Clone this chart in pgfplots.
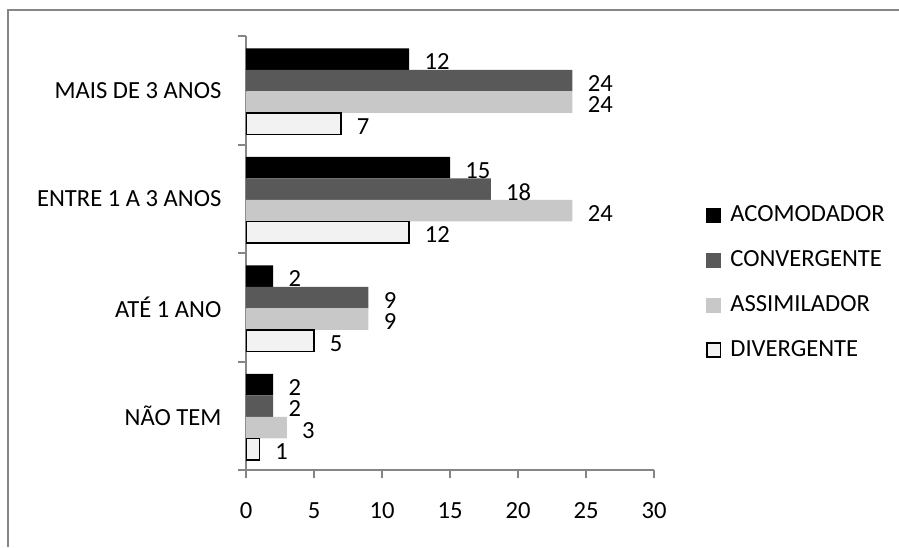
\documentclass[border=0pt]{standalone}
\usepackage{fontspec}
\setmainfont{Carlito}
\usepackage{pgfplots}
\pgfplotsset{compat=1.18}
\definecolor{axgray}{RGB}{134,134,134}
\definecolor{cdark}{RGB}{89,89,89}
\definecolor{clight}{RGB}{200,200,200}
\definecolor{cwhite}{RGB}{242,242,242}
\pgfplotsset{
 sqfill/.style={legend image code/.code={\fill[##1] (0pt,-3.75pt) rectangle (7.5pt,3.75pt);}},
 sqdraw/.style={legend image code/.code={\draw[##1, line width=0.75pt] (0.4pt,-3.4pt) rectangle (7.1pt,3.4pt);}},
}
\begin{document}
\fontsize{12.3}{14}\selectfont
\begin{tikzpicture}
\path[use as bounding box] (0,0) rectangle (449.5pt,273.5pt);
\draw[axgray, line width=1pt] (4pt,0) -- (4pt,268.5pt) -- (449.5pt,268.5pt);
\begin{axis}[
 at={(123pt,38.5pt)}, anchor=south west,
 scale only axis, width=204pt, height=217pt,
 xmin=0, xmax=30, ymin=-0.5, ymax=3.5,
 xtick={0,5,...,30},
 ytick={-0.5,0.5,1.5,2.5,3.5}, yticklabels={},
 extra y ticks={0,1,2,3},
 extra y tick labels={NÃO TEM, ATÉ 1 ANO, ENTRE 1 A 3 ANOS, MAIS DE 3 ANOS},
 extra y tick style={major tick length=0pt, yticklabel style={xshift=-8pt}},
 axis x line*=bottom, axis y line*=left,
 axis line style={axgray, line width=1pt, -},
 tick style={axgray, line width=1pt},
 tick align=outside, major tick length=4pt,
 xticklabel style={yshift=-8pt},
 /pgf/number format/assume math mode=true,
 xbar, bar width=10.75pt,
 nodes near coords, nodes near coords align=horizontal,
 every node near coord/.append style={black, inner sep=0pt, xshift=7.5pt, yshift=-1.5pt},
 legend cell align=left,
 legend style={at={(1,0.432)}, anchor=west, xshift=26pt, draw=none, fill=none, inner sep=0pt, row sep=6.5pt, column sep=2.5pt, nodes={inner sep=2pt, text height=9pt, text depth=3pt}},
]
\addplot[fill=black, draw=none, bar shift=15.625pt, sqfill] coordinates {(2,0) (2,1) (15,2) (12,3)};
\addlegendentry{ACOMODADOR}
\addplot[fill=cdark, draw=none, bar shift=4.875pt, sqfill] coordinates {(2,0) (9,1) (18,2) (24,3)};
\addlegendentry{CONVERGENTE}
\addplot[fill=clight, draw=none, bar shift=-5.875pt, sqfill] coordinates {(3,0) (9,1) (24,2) (24,3)};
\addlegendentry{ASSIMILADOR}
\addplot[fill=cwhite, draw=black, line width=0.75pt, bar shift=-16.625pt, sqdraw] coordinates {(1,0) (5,1) (12,2) (7,3)};
\addlegendentry{DIVERGENTE}
\end{axis}
\end{tikzpicture}
\end{document}
